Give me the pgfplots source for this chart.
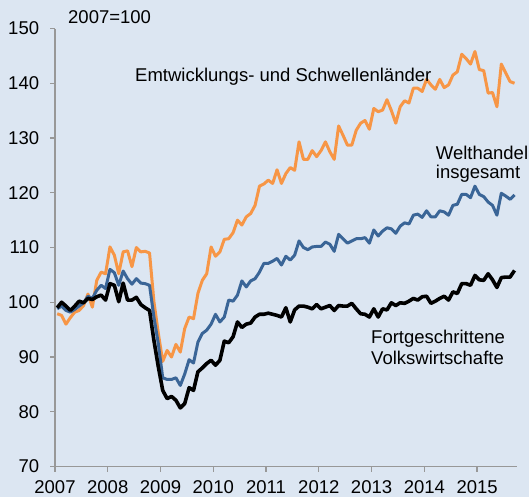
\documentclass[border=0pt]{standalone}
\usepackage{pgfplots}
\usepackage{pgfplotstable}
\pgfplotsset{compat=1.18}
\usepackage{fontspec}
\setmainfont{Liberation Sans}
\definecolor{bgc}{HTML}{DCE6F2}
\definecolor{orangec}{HTML}{F79646}
\definecolor{bluec}{HTML}{3A6597}
\definecolor{axc}{HTML}{989898}
\pgfplotstableread{
i B W E
0 99.0 98.8 97.9
1 100.0 99.3 97.6
2 99.3 98.5 96.0
3 98.5 98.2 97.2
4 99.3 98.7 98.2
5 100.2 99.3 98.5
6 99.9 99.9 99.4
7 100.7 101.1 101.5
8 100.5 100.7 99.1
9 101.0 102.2 104.0
10 101.3 103.1 105.5
11 100.4 102.5 105.2
12 103.4 106.0 110.1
13 103.1 105.4 108.6
14 100.1 103.1 105.2
15 103.5 105.7 109.2
16 100.4 104.3 109.4
17 100.4 103.3 106.5
18 100.9 104.3 110.0
19 99.6 103.5 109.2
20 99.0 103.4 109.3
21 98.5 103.1 109.0
22 93.0 97.3 100.1
23 88.2 92.4 94.3
24 83.9 86.2 89.2
25 82.4 85.9 91.2
26 82.8 85.9 90.0
27 82.1 86.2 92.3
28 80.7 84.8 90.9
29 81.5 86.9 95.2
30 84.4 89.5 97.3
31 83.9 88.9 97.0
32 87.3 92.7 101.6
33 88.0 94.3 104.0
34 88.8 94.9 105.2
35 89.4 96.0 110.1
36 88.5 97.8 108.4
37 89.4 96.4 109.2
38 92.9 97.3 111.5
39 92.6 100.4 111.6
40 93.7 100.2 112.7
41 96.4 101.3 115.0
42 95.4 103.9 114.1
43 96.0 102.8 115.6
44 96.2 103.9 116.2
45 97.3 104.3 117.7
46 97.8 105.5 121.2
47 97.8 107.1 121.6
48 98.0 107.1 122.3
49 97.8 107.5 121.7
50 97.6 108.0 124.2
51 97.3 106.8 121.7
52 99.0 108.4 123.5
53 96.4 107.7 124.6
54 98.6 108.6 124.1
55 99.3 111.2 129.3
56 99.3 110.0 126.1
57 99.1 109.6 126.1
58 98.8 110.1 127.7
59 99.6 110.2 126.6
60 98.8 110.2 127.7
61 99.1 111.0 129.3
62 99.4 110.6 127.5
63 98.5 109.3 126.1
64 99.4 112.4 132.2
65 99.3 111.6 130.5
66 99.3 110.8 128.7
67 99.8 111.2 128.7
68 98.8 111.6 131.4
69 97.9 111.6 132.7
70 97.8 111.8 133.2
71 97.3 110.8 131.6
72 98.8 113.2 135.4
73 97.3 112.1 134.8
74 98.8 113.0 135.1
75 98.6 113.6 137.0
76 99.9 113.4 135.0
77 99.4 112.6 132.7
78 99.9 113.9 135.7
79 99.8 114.5 136.8
80 100.2 114.3 136.4
81 100.7 115.9 139.1
82 100.4 116.1 139.1
83 101.0 115.5 138.5
84 101.1 116.7 140.7
85 99.8 115.6 139.7
86 100.2 115.6 138.9
87 100.7 116.7 140.7
88 101.1 116.5 139.2
89 100.4 115.9 139.7
90 101.9 117.7 141.5
91 101.6 117.9 142.1
92 103.4 119.7 145.3
93 103.4 119.7 144.5
94 103.1 119.1 143.5
95 104.9 121.2 145.8
96 104.1 119.7 142.5
97 104.0 119.3 142.3
98 105.2 118.3 138.2
99 104.1 117.7 138.3
100 102.7 115.9 135.7
101 104.5 119.9 143.5
102 104.6 119.4 141.9
103 104.6 118.8 140.3
104 105.8 119.6 140.0
}\datatable
\begin{document}
\begin{tikzpicture}[x=1pt,y=1pt]
\useasboundingbox (0,0) rectangle (529,497);
\fill[bgc] (0,0) rectangle (529,497);
\begin{axis}[
  at={(55pt,30.5pt)}, anchor=south west,
  scale only axis, width=461.7pt, height=438pt,
  xmin=2007, xmax=2015.75, ymin=70, ymax=150,
  axis x line*=bottom, axis y line*=left,
  axis line style={axc, line width=1.5pt, -},
  xtick={2007,...,2015}, ytick={70,80,...,150},
  tick style={axc, line width=1.2pt},
  tick align=outside, major tick length=5pt,
  /pgf/number format/1000 sep={},
  /pgf/number format/assume math mode=true,
  ticklabel style={font=\fontsize{18.5}{21}\selectfont, text=black},
  yticklabel style={anchor=east, inner sep=0pt, xshift=-10.7pt},
  xticklabel style={anchor=north, inner sep=0pt, yshift=-9pt},
  clip=false,
]
\addplot[orangec, line width=3pt, line join=round] table[x expr=2007+(\thisrow{i}+0.5)/12, y=E] {\datatable};
\addplot[bluec, line width=3pt, line join=round] table[x expr=2007+(\thisrow{i}+0.5)/12, y=W] {\datatable};
\addplot[black, line width=3.6pt, line join=round] table[x expr=2007+(\thisrow{i}+0.5)/12, y=B] {\datatable};
\end{axis}
\begin{scope}[every node/.style={font=\fontsize{18.5}{21}\selectfont, inner sep=0pt}]
\node[anchor=base west] at (68,473.7) {2007=100};
\node[anchor=base west] at (135,415.3) {Emtwicklungs- und Schwellenländer};
\node[anchor=base west] at (435.7,337.7) {Welthandel};
\node[anchor=base west] at (435.7,318.7) {insgesamt};
\node[anchor=base west] at (371,153) {Fortgeschrittene};
\node[anchor=base west] at (371,132.7) {Volkswirtschafte};
\end{scope}
\end{tikzpicture}
\end{document}
